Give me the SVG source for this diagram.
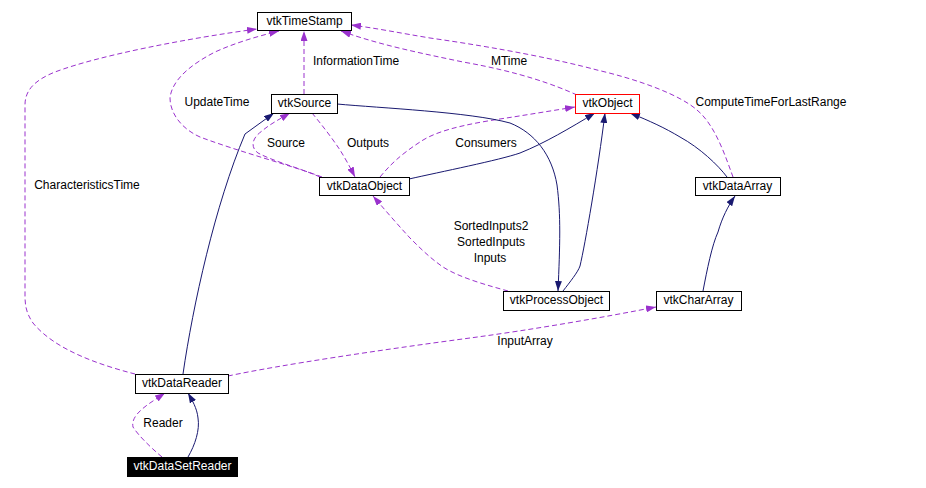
<svg xmlns="http://www.w3.org/2000/svg" width="926" height="488" viewBox="0 0 926 488">
<style>
text{font-family:"Liberation Sans",Arial,sans-serif;font-size:12px;fill:#000}
.n rect{fill:#fff;stroke:#000;stroke-width:1}
.n text{text-anchor:middle}
.inh{fill:none;stroke:#191970;stroke-width:1;marker-end:url(#ah)}
.use{fill:none;stroke:#9a32cd;stroke-width:1;stroke-dasharray:5,3;marker-end:url(#ap)}
.lbl{text-anchor:middle}
</style>
<defs>
<marker id="ah" viewBox="0 0 10 7" refX="10" refY="3.5" markerWidth="10" markerHeight="7" markerUnits="userSpaceOnUse" orient="auto">
<path d="M0,0L10,3.5L0,7z" fill="#191970"/>
</marker>
<marker id="ap" viewBox="0 0 10 7" refX="10" refY="3.5" markerWidth="10" markerHeight="7" markerUnits="userSpaceOnUse" orient="auto">
<path d="M0,0L10,3.5L0,7z" fill="#9a32cd"/>
</marker>
</defs>
<rect width="926" height="488" fill="#fff"/>
<g id="edges">
<path class="inh" d="M183,374 C193,305 215,205 245,134 L274,113"/>
<path class="inh" d="M188,457 C195,445 200,430 198,418 C197,408 192,400 188,393"/>
<path class="use" d="M162,457 C150,447 138,435 133,427 C131,418 140,410 150,403 L165,393"/>
<path class="use" d="M135,374 C100,365 55,350 33,323 C26,313 25,305 25,295 L25,105 C25,90 35,80 55,72 C100,55 190,38 257,29"/>
<path class="use" d="M322,177 C290,165 240,152 200,137 C180,128 170,112 170,98 C172,80 190,65 215,52 C235,43 255,37 279,31"/>
<path class="use" d="M304,94 L304,31"/>
<path class="use" d="M320,177 C300,168 275,162 258,153 C250,147 252,138 262,131 C270,124 280,119 290,113"/>
<path class="use" d="M312,113 C322,125 332,138 340,150 C345,158 350,167 355,177"/>
<path class="use" d="M380,177 C390,165 400,155 420,142 C440,128 480,122 513,117 L575,107"/>
<path class="inh" d="M409,179 C440,172 500,160 520,153 C545,143 570,128 595,113"/>
<path class="inh" d="M337,104 C380,108 470,112 510,123 C535,133 552,155 557,185 C561,215 560,245 558,291"/>
<path class="inh" d="M563,291 C570,282 578,272 580,266 C585,245 598,170 605,113"/>
<path class="inh" d="M727,177 C718,165 700,148 680,137 C665,128 650,121 630,113"/>
<path class="inh" d="M703,291 C707,270 712,245 718,232 C722,218 728,206 735,196"/>
<path class="use" d="M733,177 C725,155 715,125 697,110 C680,95 640,80 597,70 C560,60 500,48 430,38 C400,33 375,28 351,25"/>
<path class="use" d="M577,95 C555,85 520,72 463,62 C420,53 380,45 341,31"/>
<path class="use" d="M508,291 C490,286 460,278 443,267 C430,258 420,248 410,238 C398,225 385,210 373,196"/>
<path class="use" d="M228,376 C280,365 380,350 470,338 C530,330 600,318 656,307"/>
</g>
<g id="labels">
<text class="lbl" x="356" y="65">InformationTime</text>
<text class="lbl" x="217" y="106">UpdateTime</text>
<text class="lbl" x="286" y="147">Source</text>
<text class="lbl" x="368" y="147">Outputs</text>
<text class="lbl" x="486" y="147">Consumers</text>
<text class="lbl" x="509" y="65">MTime</text>
<text class="lbl" x="771" y="106">ComputeTimeForLastRange</text>
<text class="lbl" x="87" y="189">CharacteristicsTime</text>
<text class="lbl" x="491" y="230">SortedInputs2</text>
<text class="lbl" x="491" y="246">SortedInputs</text>
<text class="lbl" x="490" y="262">Inputs</text>
<text class="lbl" x="525" y="345">InputArray</text>
<text class="lbl" x="163" y="427">Reader</text>
</g>
<g id="vtkTimeStamp" class="n"><rect x="257.5" y="12.5" width="94" height="18"/><text x="304.5" y="25">vtkTimeStamp</text></g>
<g id="vtkSource" class="n"><rect x="271.5" y="94.5" width="66" height="19"/><text x="304.5" y="107">vtkSource</text></g>
<g id="vtkObject" class="n"><rect x="575.5" y="94.5" width="64" height="19" style="stroke:#f00"/><text x="607.5" y="107">vtkObject</text></g>
<g id="vtkDataObject" class="n"><rect x="319.5" y="177.5" width="90" height="18"/><text x="364.5" y="190">vtkDataObject</text></g>
<g id="vtkDataArray" class="n"><rect x="695.5" y="177.5" width="85" height="18"/><text x="737.5" y="190">vtkDataArray</text></g>
<g id="vtkProcessObject" class="n"><rect x="503.5" y="291.5" width="106" height="19"/><text x="556.5" y="304">vtkProcessObject</text></g>
<g id="vtkCharArray" class="n"><rect x="656.5" y="291.5" width="85" height="19"/><text x="698.5" y="304">vtkCharArray</text></g>
<g id="vtkDataReader" class="n"><rect x="135.5" y="374.5" width="93" height="19"/><text x="182" y="387">vtkDataReader</text></g>
<g id="vtkDataSetReader" class="n"><rect x="127.5" y="457.5" width="110" height="19" style="fill:#000"/><text x="182.5" y="470" style="fill:#fff">vtkDataSetReader</text></g>
</svg>
